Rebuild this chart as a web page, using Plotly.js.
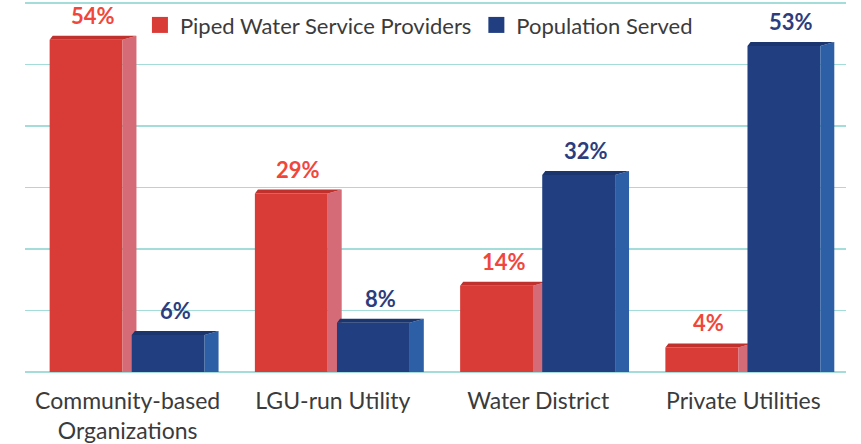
<!DOCTYPE html>
<html>
<head>
<meta charset="utf-8">
<script src="https://cdn.plot.ly/plotly-3.0.1.min.js"></script>
<style>
  html, body { margin: 0; padding: 0; background: #ffffff; }
  #chart { width: 861px; height: 444px; }
</style>
</head>
<body>
<div id="chart"></div>
<script>
// ---- data ----
const categories = ['Community-based<br>Organizations', 'LGU-run Utility', 'Water District', 'Private Utilities'];
const providers = [54, 29, 14, 4];
const population = [6, 8, 32, 53];
const seriesNames = ['Piped Water Service Providers', 'Population Served'];

// ---- styles ----
const FONT = 'Lato, "Open Sans", "Noto Sans", sans-serif';
const styles = [
  { front: '#d93b36', side: '#d56b76', top: '#c0302d', label: '#f1463c', offset: -0.38 },
  { front: '#213f80', side: '#2c5fa5', top: '#1b366f', label: '#2b3d7e', offset: 0.02 }
];
const BW = 0.355;   // bar width (category units)
const DX = 0.068;   // depth, x (category units)
const DXT = 0.015;  // top face back-left shift
const DY = 0.65;    // depth, y (value units)

const idx = categories.map((_, i) => i);
const traces = [];
const annotations = [];

[providers, population].forEach((vals, s) => {
  const st = styles[s];
  const xa = s === 0 ? 'x' : 'x2';
  const ya = s === 0 ? 'y' : 'y2';
  traces.push({
    type: 'bar', x: idx, y: vals, width: BW, offset: st.offset,
    marker: { color: st.front, line: { width: 0 } },
    xaxis: xa, yaxis: ya, showlegend: false, hoverinfo: 'skip', name: seriesNames[s]
  });
  const sx = [], sy = [], tx = [], ty = [];
  vals.forEach((v, i) => {
    const x0 = i + st.offset, x1 = x0 + BW;
    sx.push(x1, x1 + DX, x1 + DX, x1, x1, null);
    sy.push(v, v + DY, 0, 0, v, null);
    tx.push(x0, x0 + DXT, x1 + DX, x1, x0, null);
    ty.push(v, v + DY, v + DY, v, v, null);
    annotations.push({
      x: x0 + (BW + DX) / 2, y: v + DY, xref: xa, yref: ya,
      text: v + '%', showarrow: false, yanchor: 'bottom', yshift: 5,
      font: { family: FONT, size: 22, color: st.label, weight: 700 }
    });
  });
  traces.push({
    type: 'scatter', mode: 'lines', x: sx, y: sy, fill: 'toself', fillcolor: st.side,
    line: { width: 0, color: st.side }, xaxis: xa, yaxis: ya, showlegend: false, hoverinfo: 'skip'
  });
  traces.push({
    type: 'scatter', mode: 'lines', x: tx, y: ty, fill: 'toself', fillcolor: st.top,
    line: { width: 0, color: st.top }, xaxis: xa, yaxis: ya, showlegend: false, hoverinfo: 'skip'
  });
});

// legend entries
seriesNames.forEach((n, s) => {
  traces.push({
    type: 'scatter', mode: 'markers', x: [null], y: [null], name: n,
    marker: { symbol: 'square', size: 20, color: styles[s].front },
    hoverinfo: 'skip', showlegend: true
  });
});

const yax = {
  range: [0, 60.3], tickvals: [0, 10, 20, 30, 40, 50, 60], showgrid: true, gridcolor: '#a3dcd8', gridwidth: 1.5,
  zeroline: true, zerolinecolor: '#a3dcd8', zerolinewidth: 1.5,
  showticklabels: false, ticks: '', fixedrange: true
};

const layout = {
  width: 861, height: 444,
  margin: { l: 25, r: 15, t: 1, b: 72 },
  paper_bgcolor: '#ffffff', plot_bgcolor: '#ffffff',
  showlegend: true,
  legend: {
    orientation: 'h', x: 0.14, y: 0.935, xanchor: 'left', yanchor: 'middle',
    font: { family: FONT, size: 22, color: '#3b3b3b' }, bgcolor: 'rgba(0,0,0,0)',
    itemwidth: 30, itemsizing: 'trace', tracegroupgap: 0
  },
  xaxis: {
    range: [-0.5, 3.5], tickvals: idx, ticktext: categories,
    showgrid: false, zeroline: false, showline: false,
    ticks: 'outside', ticklen: 8, tickcolor: 'rgba(0,0,0,0)',
    tickfont: { family: FONT, size: 23, color: '#3b3b3b' }, fixedrange: true
  },
  yaxis: yax,
  xaxis2: { overlaying: 'x', matches: 'x', visible: false, range: [-0.5, 3.5] },
  yaxis2: Object.assign({}, yax, { overlaying: 'y', matches: 'y', visible: false, showgrid: false, zeroline: false }),
  annotations: annotations,
  hovermode: false
};

Plotly.newPlot('chart', traces, layout, { displayModeBar: false, staticPlot: true });
</script>
</body>
</html>
